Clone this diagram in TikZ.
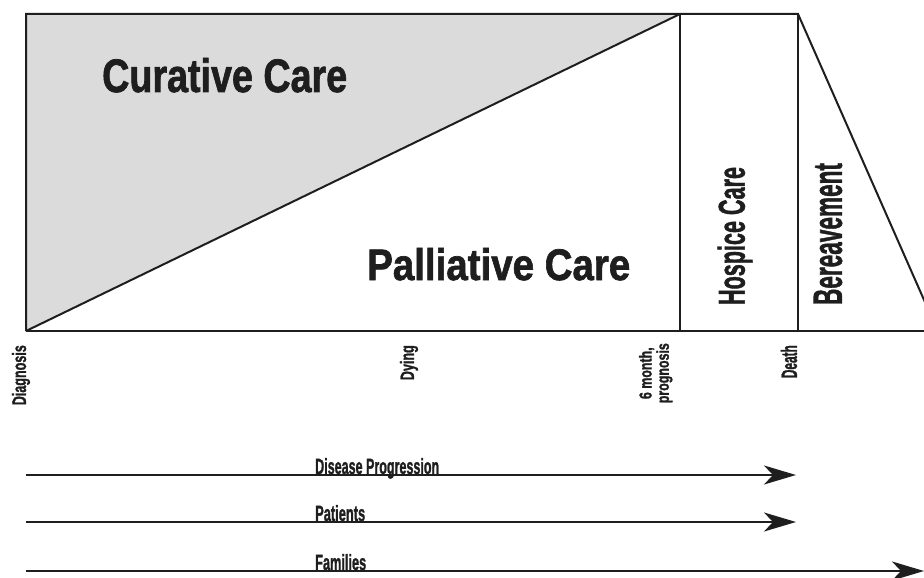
\documentclass[tikz,border=0pt]{standalone}
\usepackage{fontspec}
\setmainfont{Liberation Sans}
\newfontfamily\heavy[FakeBold=1.6]{Liberation Sans Bold}
\usepackage{graphicx}
\usetikzlibrary{arrows.meta}
\definecolor{ink}{HTML}{1E1E1E}
\definecolor{curgray}{HTML}{DBDBDB}
\newcommand{\fitlab}[3]{\resizebox{#1pt}{#2pt}{\heavy #3}}
\tikzset{
  frame/.style={draw=ink, line width=2pt, line join=miter},
  lbl/.style={inner sep=0pt, text=ink},
  timeline/.style={draw=ink, line width=2.2pt, -{Stealth[length=32pt,width=19pt,inset=9pt]}}
}
\begin{document}
\begin{tikzpicture}[x=1pt,y=-1pt]
\useasboundingbox (0,0) rectangle (924,578);
\begin{scope}
\clip (0,0) rectangle (924,578);
% corners
\coordinate (tl) at (26,14);
\coordinate (bl) at (26,331);
\coordinate (tp) at (680,14);
\coordinate (bp) at (680,331);
\coordinate (td) at (798,14);
\coordinate (bd) at (798,331);
\coordinate (br) at (930,331);
\coordinate (slant) at (937.7,331);
% gray curative triangle
\fill[curgray] (tl) -- (tp) -- (bl) -- cycle;
% frame
\draw[frame] (bl) -- (tl) -- (td) -- (slant);
\draw[frame] (bl) -- (br);
\draw[frame] (tp) -- (bp);
\draw[frame] (td) -- (bd);
\draw[frame] (bl) -- (tp);
\end{scope}
% big labels
\node[lbl, anchor=base west] (cur) at (102,92) {\fitlab{245}{34}{Curative Care}};
\node[lbl, anchor=base west] (pal) at (367,280) {\fitlab{263}{32}{Palliative Care}};
\node[lbl, rotate=90, anchor=center] (hos) at (735,236) {\fitlab{138}{27}{Hospice Care}};
\node[lbl, rotate=90, anchor=center] (ber) at (828,234) {\fitlab{142}{28}{Bereavement}};
% time points
\node[lbl, rotate=90, anchor=east] (diag) at (21,345) {\fitlab{60}{14}{Diagnosis}};
\node[lbl, rotate=90, anchor=east] (dying) at (409,345) {\fitlab{35}{14}{Dying}};
\node[lbl, rotate=90, anchor=east] (six) at (656,343) {\resizebox*{60pt}{38pt}{\heavy\begin{tabular}{@{}c@{}}6 month,\\[-2pt]prognosis\end{tabular}}};
\node[lbl, rotate=90, anchor=east] (death) at (789,345) {\fitlab{33}{16}{Death}};
% timelines
\coordinate (d0) at (26,475);
\coordinate (d1) at (796,475);
\coordinate (p0) at (26,522);
\coordinate (p1) at (796,522);
\coordinate (f0) at (26,571);
\coordinate (f1) at (924,571);
\draw[timeline] (d0) -- (d1);
\draw[timeline] (p0) -- (p1);
\draw[timeline] (f0) -- (f1);
\node[lbl, anchor=base west] (dis) at (315,474) {\fitlab{124}{16}{Disease Progression}};
\node[lbl, anchor=base west] (pat) at (315,521) {\fitlab{50}{16}{Patients}};
\node[lbl, anchor=base west] (fam) at (315,570) {\fitlab{51}{16}{Families}};
\end{tikzpicture}
\end{document}
